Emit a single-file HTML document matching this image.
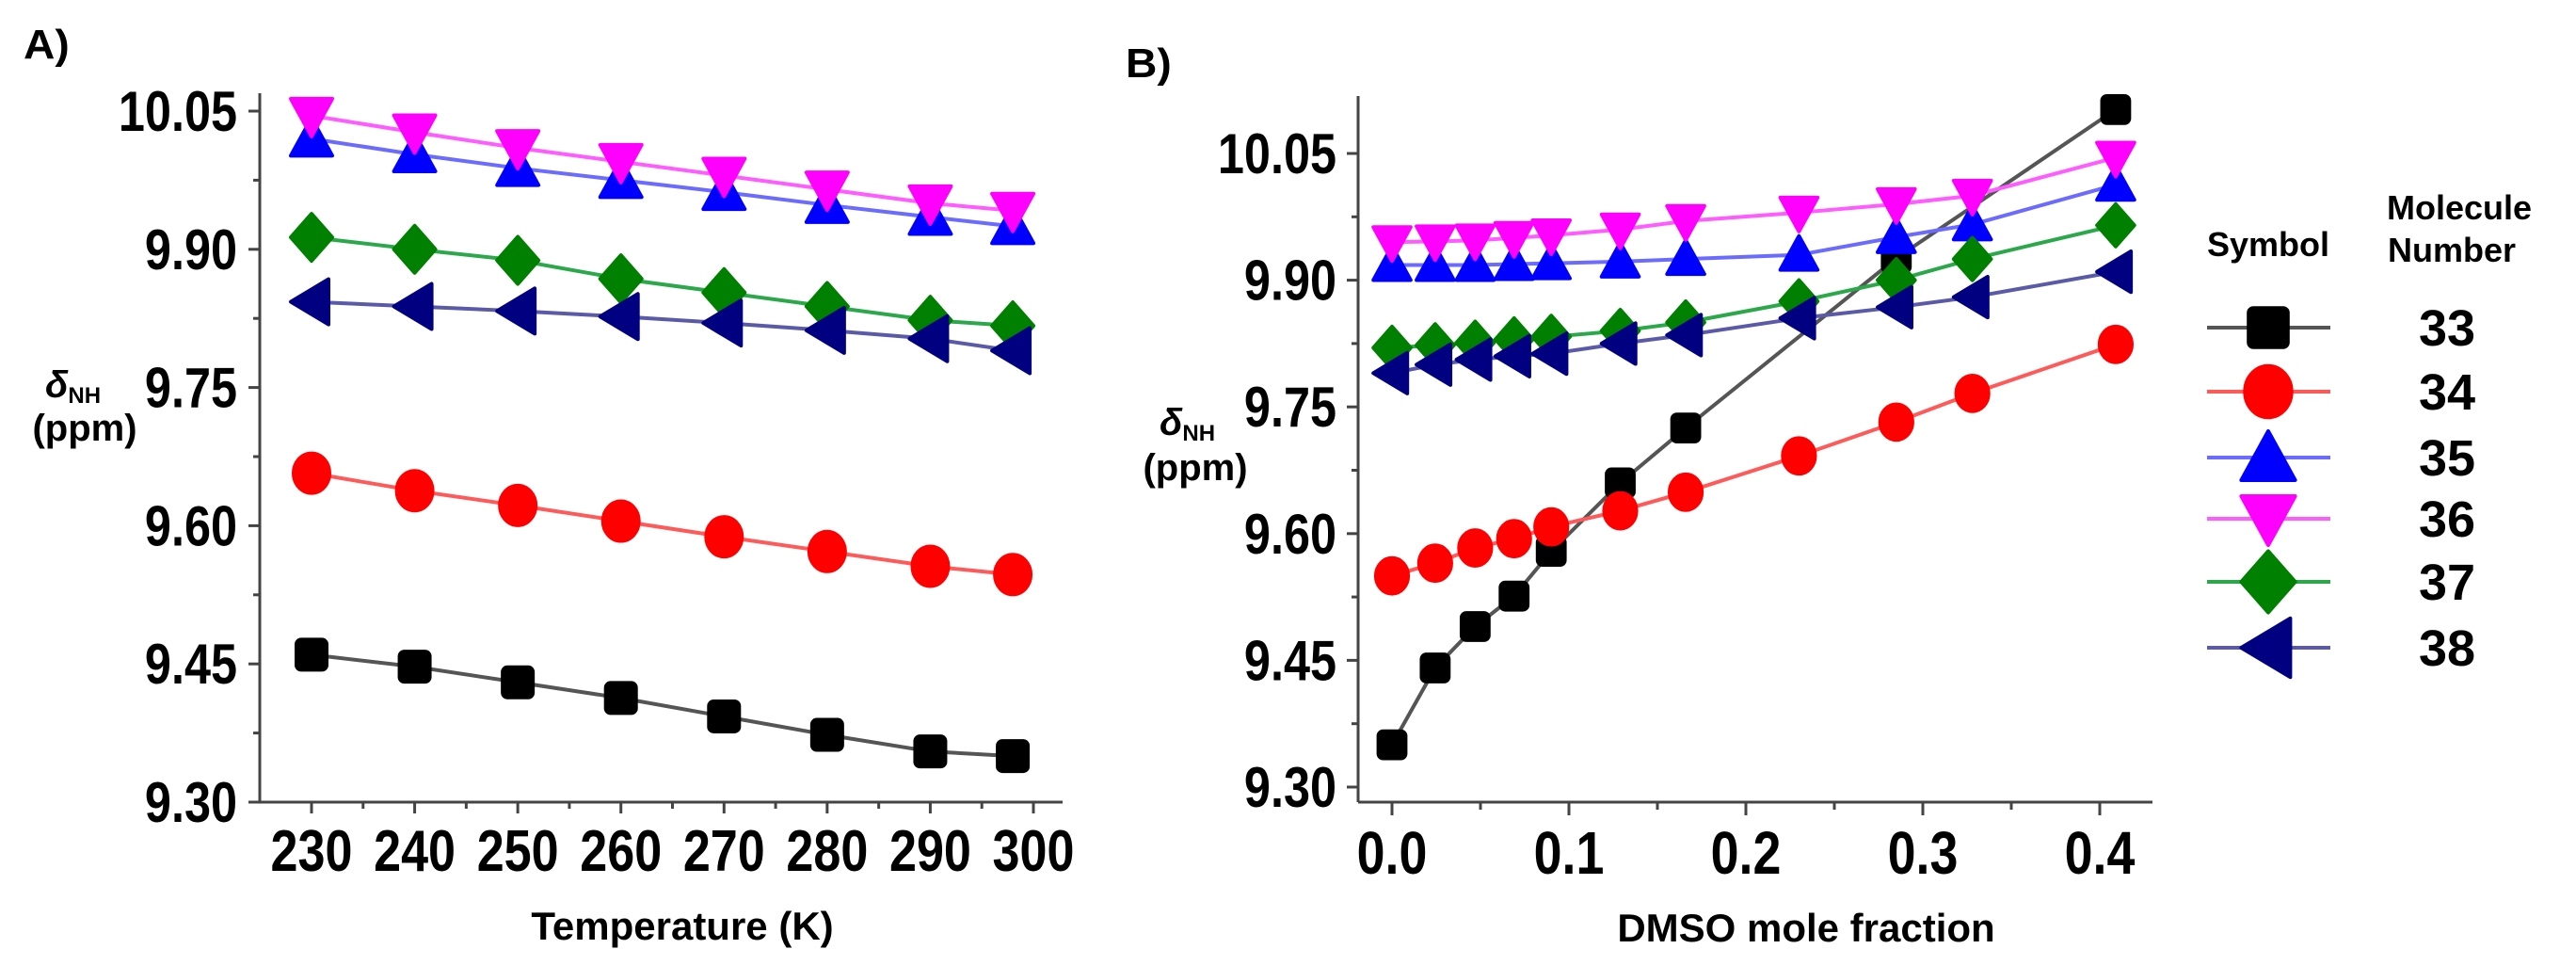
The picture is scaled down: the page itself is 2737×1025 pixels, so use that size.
<!DOCTYPE html>
<html><head><meta charset="utf-8"><style>
html,body{margin:0;padding:0;background:#fff;}
svg{display:block;font-family:"Liberation Sans",Arial,sans-serif;}
</style></head><body>
<svg id="fig" width="2737" height="1025" viewBox="0 0 2737 1025" xmlns="http://www.w3.org/2000/svg">
<rect width="2737" height="1025" fill="#fff"/>
<g id="panelA"></g>
<g id="panelB"></g>
<g id="legend"></g>
</svg>
<script>
// ---------- Panel A data ----------
const tempX = [230, 240, 250, 260, 270, 280, 290, 298];
const tempTicks = [230, 240, 250, 260, 270, 280, 290, 300];
const yTicks = [9.30, 9.45, 9.60, 9.75, 9.90, 10.05];
const yTickLabels = ["9.30", "9.45", "9.60", "9.75", "9.90", "10.05"];
const a33 = [9.460, 9.447, 9.430, 9.413, 9.393, 9.373, 9.355, 9.350];
const a34 = [9.657, 9.638, 9.622, 9.605, 9.588, 9.572, 9.556, 9.547];
const a35 = [10.020, 10.003, 9.988, 9.975, 9.962, 9.948, 9.935, 9.925];
const a36 = [10.045, 10.027, 10.010, 9.995, 9.980, 9.965, 9.950, 9.942];
const a37 = [9.913, 9.900, 9.888, 9.868, 9.853, 9.838, 9.823, 9.817];
const a38 = [9.843, 9.838, 9.833, 9.827, 9.820, 9.812, 9.803, 9.790];
// ---------- Panel B data ----------
const dmsoX = [0, 0.0244, 0.047, 0.069, 0.090, 0.129, 0.166, 0.230, 0.285, 0.328, 0.409];
const dmsoTicks = [0.0, 0.1, 0.2, 0.3, 0.4];
const dmsoTickLabels = ["0.0", "0.1", "0.2", "0.3", "0.4"];
const b33 = [9.350, 9.441, 9.490, 9.526, 9.579, 9.660, 9.725, null, 9.926, null, 10.102];
const b34 = [9.550, 9.565, 9.583, 9.594, 9.608, 9.627, 9.649, 9.692, 9.732, 9.766, 9.824];
const b35 = [9.918, 9.918, 9.918, 9.919, 9.920, 9.922, 9.925, 9.930, 9.951, 9.966, 10.013];
const b36 = [9.945, 9.946, 9.947, 9.950, 9.953, 9.960, 9.970, 9.980, 9.990, 10.000, 10.045];
const b37 = [9.820, 9.823, 9.826, 9.830, 9.833, 9.840, 9.850, 9.875, 9.900, 9.925, 9.965];
const b38 = [9.790, 9.800, 9.806, 9.810, 9.813, 9.825, 9.835, 9.855, 9.868, 9.880, 9.910];
const molNumbers = ["33", "34", "35", "36", "37", "38"];

const NS = "http://www.w3.org/2000/svg";
const styles = [
  {line:"#555", fill:"#000", shape:"square"},
  {line:"#ff5a5a", fill:"#ff0000", shape:"circle"},
  {line:"#6b6bff", fill:"#0000ff", shape:"up"},
  {line:"#ff5cff", fill:"#ff00ff", shape:"down"},
  {line:"#2aa84a", fill:"#008000", shape:"diamond"},
  {line:"#5a5aa8", fill:"#000080", shape:"left"}
];

function mk(parent, tag, attrs){
  const e = document.createElementNS(NS, tag);
  for (const k in attrs) e.setAttribute(k, attrs[k]);
  parent.appendChild(e);
  return e;
}
function txt(parent, x, y, s, size, anchor, sx, weight){
  const t = mk(parent, "text", {transform:`translate(${x},${y}) scale(${sx},1)`, "font-size":size, "font-weight":weight||"bold", "text-anchor":anchor||"middle", fill:"#000"});
  t.textContent = s;
  return t;
}
function marker(parent, shape, cx, cy, fill, k){
  k = k || 1;
  let e;
  const common = {fill:fill, stroke:fill, "stroke-width":4, "stroke-linejoin":"round"};
  if (shape === "square") {
    const s = 32*k;
    e = mk(parent, "rect", Object.assign({x:cx-s/2, y:cy-s/2, width:s, height:s, rx:5}, common));
  } else if (shape === "circle") {
    e = mk(parent, "ellipse", Object.assign({cx:cx, cy:cy, rx:19*k, ry:21*k}, common));
  } else {
    let p;
    const w = 22*k, h = 20*k;
    if (shape === "up") p = [[cx, cy-h-2], [cx+w, cy+h-2], [cx-w, cy+h-2]];
    else if (shape === "down") p = [[cx-w, cy-h+2], [cx+w, cy-h+2], [cx, cy+h+2]];
    else if (shape === "diamond") p = [[cx, cy-25*k], [cx+22*k, cy], [cx, cy+25*k], [cx-22*k, cy]];
    else p = [[cx-22*k, cy], [cx+18*k, cy-24*k], [cx+18*k, cy+24*k]];
    e = mk(parent, "polygon", Object.assign({points:p.map(q=>q.join(",")).join(" ")}, common));
  }
  return e;
}

// ---------- Panel A ----------
(function(){
  const g = document.getElementById("panelA");
  const x0 = 276, x1 = 1129, yTop = 99, yBot = 852;
  const xs = v => 331 + (v - 230) * (1098 - 331) / 70;
  const ys = v => 852 - (v - 9.30) * (852 - 118) / 0.75;
  const axes = mk(g, "g", {});
  
  
  mk(axes, "line", {x1:x0, y1:yTop, x2:x0, y2:yBot, stroke:"#444", "stroke-width":3});
  mk(axes, "line", {x1:x0, y1:yBot, x2:x1, y2:yBot, stroke:"#444", "stroke-width":3});
  yTicks.forEach((v, i) => {
    mk(axes, "line", {x1:x0-12, y1:ys(v), x2:x0, y2:ys(v), stroke:"#444", "stroke-width":3});
    if (i < yTicks.length - 1) mk(axes, "line", {x1:x0-7, y1:ys(v+0.075), x2:x0, y2:ys(v+0.075), stroke:"#444", "stroke-width":3});
    const t = txt(axes, 252, ys(v) + 21, yTickLabels[i], 60, "end", 0.84);
    
    
  });
  tempTicks.forEach((v) => {
    mk(axes, "line", {x1:xs(v), y1:yBot, x2:xs(v), y2:yBot+12, stroke:"#444", "stroke-width":3});
    if (v < 300) mk(axes, "line", {x1:xs(v+5), y1:yBot, x2:xs(v+5), y2:yBot+7, stroke:"#444", "stroke-width":3});
    const t = txt(axes, xs(v), 925, String(v), 62, "middle", 0.84);
    
    
  });
  const pl = txt(g, 25, 62, "A)", 44, "start", 1.05);
  
  
  const xt = txt(g, 725, 998, "Temperature (K)", 42, "middle", 1);
  
  
  const yt = mk(g, "text", {x:48, y:422, "font-size":40, "font-weight":"bold", "font-style":"italic"});
  
  
  yt.innerHTML = 'δ<tspan font-size="24" font-style="normal" dy="6">NH</tspan>';
  const yu = txt(g, 90, 468, "(ppm)", 40, "middle", 1);
  
  
  [a33, a34, a35, a36, a37, a38].forEach((ser, si) => {
    const st = styles[si];
    const sg = mk(g, "g", {});
    
    
    mk(sg, "polyline", {points: ser.map((v, i) => xs(tempX[i]) + "," + ys(v)).join(" "), fill:"none", stroke:st.line, "stroke-width":4});
    ser.forEach((v, i) => {
      const m = marker(sg, st.shape, xs(tempX[i]), ys(v), st.fill);
      
      
    });
  });
})();

// ---------- Panel B ----------
(function(){
  const g = document.getElementById("panelB");
  const x0 = 1443, x1 = 2287, yTop = 102, yBot = 852;
  const xs = v => 1479 + v * (2231 - 1479) / 0.4;
  const ys = v => 836 - (v - 9.30) * (836 - 163) / 0.75;
  const axes = mk(g, "g", {});
  
  
  mk(axes, "line", {x1:x0, y1:yTop, x2:x0, y2:yBot, stroke:"#444", "stroke-width":3});
  mk(axes, "line", {x1:x0, y1:yBot, x2:x1, y2:yBot, stroke:"#444", "stroke-width":3});
  yTicks.forEach((v, i) => {
    mk(axes, "line", {x1:x0-12, y1:ys(v), x2:x0, y2:ys(v), stroke:"#444", "stroke-width":3});
    if (i < yTicks.length - 1) mk(axes, "line", {x1:x0-7, y1:ys(v+0.075), x2:x0, y2:ys(v+0.075), stroke:"#444", "stroke-width":3});
    const t = txt(axes, 1420, ys(v) + 21, yTickLabels[i], 60, "end", 0.84);
    
    
  });
  dmsoTicks.forEach((v, i) => {
    mk(axes, "line", {x1:xs(v), y1:yBot, x2:xs(v), y2:yBot+14, stroke:"#444", "stroke-width":3});
    if (i < dmsoTicks.length - 1) mk(axes, "line", {x1:xs(v+0.05), y1:yBot, x2:xs(v+0.05), y2:yBot+8, stroke:"#444", "stroke-width":3});
    const t = txt(axes, xs(v), 928, dmsoTickLabels[i], 64, "middle", 0.84);
    
    
  });
  const pl = txt(g, 1196, 82, "B)", 44, "start", 1.05);
  
  
  const xt = txt(g, 1919, 1000, "DMSO mole fraction", 42, "middle", 1);
  
  
  const yt = mk(g, "text", {x:1232, y:462, "font-size":40, "font-weight":"bold", "font-style":"italic"});
  
  
  yt.innerHTML = 'δ<tspan font-size="24" font-style="normal" dy="6">NH</tspan>';
  const yu = txt(g, 1270, 510, "(ppm)", 40, "middle", 1);
  
  
  [b33, b34, b35, b36, b37, b38].forEach((ser, si) => {
    const st = styles[si];
    const sg = mk(g, "g", {});
    
    
    const pts = [];
    ser.forEach((v, i) => { if (v !== null) pts.push(xs(dmsoX[i]) + "," + ys(v)); });
    mk(sg, "polyline", {points: pts.join(" "), fill:"none", stroke:st.line, "stroke-width":4});
    ser.forEach((v, i) => {
      if (v === null) return;
      const m = marker(sg, st.shape, xs(dmsoX[i]), ys(v), st.fill, 0.9);
      
      
    });
  });
})();

// ---------- Legend ----------
(function(){
  const g = document.getElementById("legend");
  const h1 = txt(g, 2410, 272, "Symbol", 36, "middle", 1);
  
  
  const h2 = txt(g, 2536, 233, "Molecule", 36, "start", 1);
  
  
  const h3 = txt(g, 2537, 278, "Number", 36, "start", 1);
  
  
  const rowsY = [348, 416, 486, 551, 618, 688];
  molNumbers.forEach((n, i) => {
    const st = styles[i];
    const e = mk(g, "g", {});
    
    
    mk(e, "line", {x1:2345, y1:rowsY[i], x2:2476, y2:rowsY[i], stroke:st.line, "stroke-width":4});
    marker(e, st.shape, 2410, rowsY[i], st.fill, 1.3);
    const t = txt(e, 2600, rowsY[i] + 19, n, 54, "middle", 1, "bold");
    
    
  });
})();
</script>
</body></html>
